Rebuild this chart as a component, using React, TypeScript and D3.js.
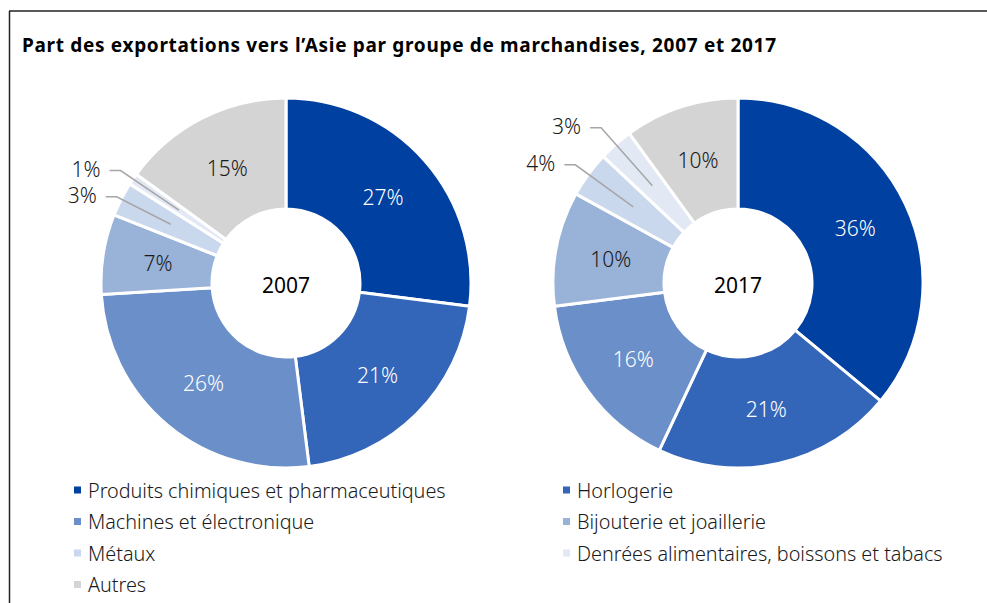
import React from "react";
import * as d3 from "d3";

const categories = [
  "Produits chimiques et pharmaceutiques",
  "Horlogerie",
  "Machines et électronique",
  "Bijouterie et joaillerie",
  "Métaux",
  "Denrées alimentaires, boissons et tabacs",
  "Autres",
];
const colors = ["#0040a0", "#3366b8", "#6a8fc9", "#98b2d8", "#cad8ee", "#e2e9f5", "#d4d4d4"];
const years = ["2007", "2017"];
const values2007 = [27, 21, 26, 7, 3, 1, 15];
const values2017 = [36, 21, 16, 10, 4, 3, 10];
const whiteText = [true, true, true, false, false, false, false];
const outsideLabel = [false, false, false, false, true, true, false];
const title = "Part des exportations vers l’Asie par groupe de marchandises, 2007 et 2017";

const W = 987;
const H = 603;
const FONT = "'Noto Sans', 'Open Sans', sans-serif";

function Donut({ cx, cy, values, year, elbowR }: { cx: number; cy: number; values: number[]; year: string; elbowR: number[] }) {
  const outerR = 185;
  const innerR = 74;
  const pie = d3.pie<number>().sort(null).value((d) => d);
  const arcs = pie(values);
  const arc = d3.arc<d3.PieArcDatum<number>>().innerRadius(innerR).outerRadius(outerR);
  const midR = (innerR + outerR) / 2;
  return (
    <g transform={`translate(${cx},${cy})`}>
      {arcs.map((a, i) => (
        <path key={i} d={arc(a) || ""} fill={colors[i]} stroke="#fff" strokeWidth={3} strokeLinejoin="round" />
      ))}
      {arcs.map((a, i) => {
        const mid = (a.startAngle + a.endAngle) / 2;
        const px = Math.sin(mid) * midR;
        const py = -Math.cos(mid) * midR;
        if (!outsideLabel[i]) {
          return (
            <text key={"l" + i} x={px} y={py} textAnchor="middle" dominantBaseline="central"
              fontFamily={FONT} fontWeight={300} fontSize={21} fill={whiteText[i] ? "#ffffff" : "#1a1a1a"}>
              {values[i]}%
            </text>
          );
        }
        const ex = Math.sin(mid) * elbowR[i];
        const ey = -Math.cos(mid) * elbowR[i];
        const hx = ex - 11;
        return (
          <g key={"l" + i}>
            <polyline points={`${px},${py} ${ex},${ey} ${hx},${ey}`} fill="none" stroke="#a6a6a6" strokeWidth={1.5} />
            <text x={hx - 9} y={ey - 2} textAnchor="end" dominantBaseline="central"
              fontFamily={FONT} fontWeight={300} fontSize={21} fill="#1a1a1a">
              {values[i]}%
            </text>
          </g>
        );
      })}
      <text x={0} y={2} textAnchor="middle" dominantBaseline="central" fontFamily={FONT} fontSize={21} fill="#000">
        {year}
      </text>
    </g>
  );
}

export default function App() {
  const legendCols = [74, 563];
  const legendY0 = 490;
  const legendDy = 31.5;
  return (
    <svg width={W} height={H} style={{ position: "absolute", left: 0, top: 0 }}>
      <rect x={0} y={0} width={W} height={H} fill="#fff" />
      <line x1={9.5} y1={11} x2={9.5} y2={H} stroke="#222" strokeWidth={1.5} />
      <line x1={9} y1={11} x2={W} y2={11} stroke="#222" strokeWidth={1.5} />
      <text x={22} y={52} fontFamily={FONT} fontWeight={700} fontSize={19} textLength={754} lengthAdjust="spacing" fill="#000">{title}</text>
      <Donut cx={286} cy={283} values={values2007} year={years[0]} elbowR={[0, 0, 0, 0, 190, 200, 0]} />
      <Donut cx={738} cy={283} values={values2017} year={years[1]} elbowR={[0, 0, 0, 0, 201, 207, 0]} />
      {categories.map((c, i) => {
        const col = i % 2;
        const row = Math.floor(i / 2);
        const x = legendCols[col];
        const y = legendY0 + row * legendDy;
        return (
          <g key={c}>
            <rect x={x} y={y - 3.5} width={7} height={7} fill={colors[i]} />
            <text x={x + 14} y={y} dominantBaseline="central" fontFamily={FONT} fontWeight={300} fontSize={19.8} fill="#1a1a1a">{c}</text>
          </g>
        );
      })}
    </svg>
  );
}
